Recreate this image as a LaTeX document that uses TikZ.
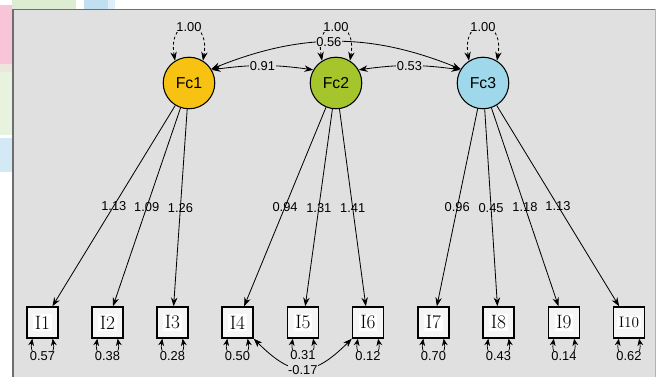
\documentclass[tikz,border=0pt]{standalone}
\usepackage{fontspec}
\newfontfamily\labfont{Liberation Sans}
\usetikzlibrary{arrows.meta, positioning}
\definecolor{panel}{HTML}{E0E0E0}
\definecolor{panelline}{HTML}{6E6E6E}
\definecolor{fcone}{HTML}{F8C212}
\definecolor{fctwo}{HTML}{A4C52C}
\definecolor{fcthree}{HTML}{9ED8EA}
\definecolor{pinkpatch}{HTML}{F8C5D8}
\definecolor{greenpatch}{HTML}{DEEDD2}
\definecolor{bluepatch}{HTML}{C0E0F2}
\definecolor{beigepatch}{HTML}{ECE6DC}
\setlength{\fboxsep}{1.2pt}

\begin{document}
\begin{tikzpicture}[x=0.03cm, y=0.03cm,
  factor/.style={circle, draw, line width=0.9pt, minimum size=44pt, inner sep=0pt, font=\labfont\fontsize{13.5}{13.5}\selectfont},
  indicator/.style={draw, line width=1.2pt, fill=gray!8, minimum size=26.5pt, inner sep=0pt, font=\fontsize{16.5}{16.5}\selectfont},
  coef/.style={font=\labfont\fontsize{11}{11}\selectfont, inner sep=0.4pt},
  loading/.style={-{Stealth[length=7.5pt, width=5.5pt]}, line width=0.7pt},
  cov/.style={{Stealth[length=7.5pt, width=5.5pt]}-{Stealth[length=7.5pt, width=5.5pt]}, line width=0.7pt},
  var/.style={cov, dash pattern=on 2.5pt off 2pt},
  err/.style={{Stealth[length=6pt, width=5pt]}-{Stealth[length=6pt, width=5pt]}, line width=0.6pt}]
  \useasboundingbox (0,0) rectangle (659,-377);
  \fill[greenpatch] (12,0) rectangle (76,-9);
  \fill[bluepatch] (84,0) rectangle (108,-9);
  \fill[bluepatch!50] (108,0) rectangle (115,-9);
  \fill[pinkpatch] (0,-5) rectangle (12,-64);
  \fill[beigepatch] (0,-64) rectangle (12,-72);
  \fill[greenpatch!70] (0,-72) rectangle (12,-135);
  \fill[bluepatch!70] (0,-138) rectangle (12,-172);
  \fill[panel] (13,-9.5) rectangle (655,-377);
  \draw[panelline, line width=1.2pt] (13,-377) -- (13,-9.5) -- (655,-9.5);
  \draw[gray!60, line width=0.5pt] (655,-9.5) -- (655,-377);

  \node[factor, fill=fcone] (Fc1) at (189,-83) {Fc1};
  \node[factor, fill=fctwo] (Fc2) at (336,-83) {Fc2};
  \node[factor, fill=fcthree] (Fc3) at (483,-83) {Fc3};

  \node[indicator] (I1) at (42.5,-322.5) {\colorbox{white}{I1}};
  \node[indicator] (I2) at (107.5,-322.5) {\colorbox{white}{I2}};
  \node[indicator] (I3) at (172.5,-322.5) {\colorbox{white}{I3}};
  \node[indicator] (I4) at (237.5,-322.5) {\colorbox{white}{I4}};
  \node[indicator] (I5) at (303,-322.5) {\colorbox{white}{I5}};
  \node[indicator] (I6) at (368,-322.5) {\colorbox{white}{I6}};
  \node[indicator] (I7) at (433.5,-322.5) {\colorbox{white}{I7}};
  \node[indicator] (I8) at (498.5,-322.5) {\colorbox{white}{I8}};
  \node[indicator] (I9) at (564,-322.5) {\colorbox{white}{I9}};
  \node[indicator] (I10) at (629,-322.5) {\colorbox{white}{\fontsize{13}{13}\selectfont I10}};

  \draw[loading] (Fc1) -- node[coef] {1.13} (I1);
  \draw[loading] (Fc1) -- node[coef] {1.09} (I2);
  \draw[loading] (Fc1) -- node[coef] {1.26} (I3);
  \draw[loading] (Fc2) -- node[coef] {0.94} (I4);
  \draw[loading] (Fc2) -- node[coef] {1.31} (I5);
  \draw[loading] (Fc2) -- node[coef] {1.41} (I6);
  \draw[loading] (Fc3) -- node[coef] {0.96} (I7);
  \draw[loading] (Fc3) -- node[coef] {0.45} (I8);
  \draw[loading] (Fc3) -- node[coef] {1.18} (I9);
  \draw[loading] (Fc3) -- node[coef] {1.13} (I10);

  \draw[var] (Fc1.122) .. controls +(100:46) and +(80:46) .. node[coef, fill=panel] {1.00} (Fc1.58);
  \draw[var] (Fc2.122) .. controls +(100:46) and +(80:46) .. node[coef, fill=panel] {1.00} (Fc2.58);
  \draw[var] (Fc3.122) .. controls +(100:46) and +(80:46) .. node[coef, fill=panel] {1.00} (Fc3.58);

  \draw[cov] (Fc1.30) to[bend left=8] node[coef, fill=panel] {0.91} (Fc2.150);
  \draw[cov] (Fc2.30) to[bend left=8] node[coef, fill=panel] {0.53} (Fc3.150);
  \draw[cov] (Fc1.32) to[bend left=22] node[coef, fill=panel, pos=0.47] {0.56} (Fc3.148);

  \draw[err] (I1.-122) .. controls +(-100:24) and +(-80:24) .. node[coef, fill=panel] {0.57} (I1.-58);
  \draw[err] (I2.-122) .. controls +(-100:24) and +(-80:24) .. node[coef, fill=panel] {0.38} (I2.-58);
  \draw[err] (I3.-122) .. controls +(-100:24) and +(-80:24) .. node[coef, fill=panel] {0.28} (I3.-58);
  \draw[err] (I4.-122) .. controls +(-100:24) and +(-80:24) .. node[coef, fill=panel] {0.50} (I4.-58);
  \draw[cov] (I4.south east) to[out=-45, in=-135, looseness=1.45] node[coef, fill=panel, below=-3pt] {-0.17} (I6.south west);
  \draw[err] (I5.-122) .. controls +(-100:22) and +(-80:22) .. node[coef, fill=panel, above=-4.5pt] {0.31} (I5.-58);
  \draw[err] (I6.-122) .. controls +(-100:24) and +(-80:24) .. node[coef, fill=panel] {0.12} (I6.-58);
  \draw[err] (I7.-122) .. controls +(-100:24) and +(-80:24) .. node[coef, fill=panel] {0.70} (I7.-58);
  \draw[err] (I8.-122) .. controls +(-100:24) and +(-80:24) .. node[coef, fill=panel] {0.43} (I8.-58);
  \draw[err] (I9.-122) .. controls +(-100:24) and +(-80:24) .. node[coef, fill=panel] {0.14} (I9.-58);
  \draw[err] (I10.-122) .. controls +(-100:24) and +(-80:24) .. node[coef, fill=panel] {0.62} (I10.-58);
\end{tikzpicture}
\end{document}
